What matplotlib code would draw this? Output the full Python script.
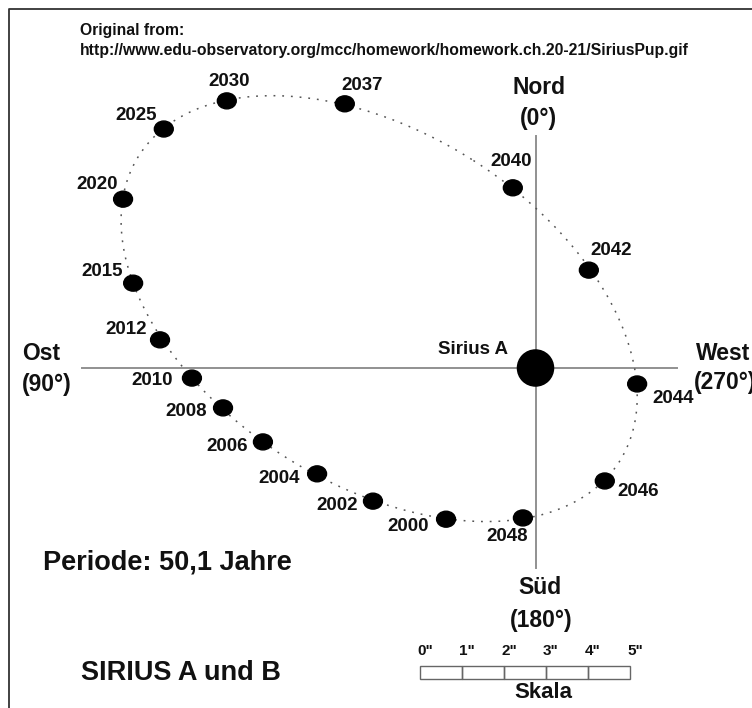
import numpy as np
import matplotlib
matplotlib.use('Agg')
import matplotlib.pyplot as plt
from matplotlib.patches import Ellipse, Circle, Rectangle
import matplotlib.transforms as mtransforms

# Positions of Sirius B relative to Sirius A, in arcseconds
# (east = positive to the left, north = positive up)
years = [2000, 2002, 2004, 2006, 2008, 2010, 2012, 2015, 2020,
         2025, 2030, 2037, 2040, 2042, 2044, 2046, 2048]
east = [2.13, 3.87, 5.20, 6.49, 7.44, 8.18, 8.94, 9.58, 9.82,
        8.85, 7.35, 4.54, 0.54, -1.27, -2.42, -1.65, 0.30]
north = [-3.60, -3.17, -2.52, -1.76, -0.95, -0.24, 0.67, 2.02, 4.02,
         5.69, 6.36, 6.29, 4.29, 2.33, -0.38, -2.69, -3.57]

scale_ticks = [0, 1, 2, 3, 4, 5]
scale_labels = ['0"', '1"', '2"', '3"', '4"', '5"']

W, H = 752, 708
PX = 42.0  # pixels per arcsecond in the original drawing
A_PX = (535.5, 368.0)  # pixel position of Sirius A

plt.rcParams['font.family'] = ['Liberation Sans', 'DejaVu Sans']
plt.rcParams['font.weight'] = 'bold'


def fit_ellipse(x, y):
    """Least squares conic fit, returns center, full width/height, angle"""
    x = np.asarray(x)
    y = np.asarray(y)
    M = np.column_stack([x * x, x * y, y * y, x, y, np.ones_like(x)])
    _, _, vt = np.linalg.svd(M)
    a, b, c, d, e, f = vt[-1]
    Q = np.array([[a, b / 2], [b / 2, c]])
    center = np.linalg.solve(2 * Q, [-d, -e])
    x0, y0 = center
    f0 = a * x0 * x0 + b * x0 * y0 + c * y0 * y0 + d * x0 + e * y0 + f
    vals, vecs = np.linalg.eigh(Q)
    semi = np.sqrt(-f0 / vals)
    angle = np.degrees(np.arctan2(vecs[1, 0], vecs[0, 0]))
    return (x0, y0), 2 * semi[0], 2 * semi[1], angle


fig = plt.figure(figsize=(W / 100, H / 100), dpi=100)
ax = fig.add_axes([0, 0, 1, 1])
ax.set_xlim(A_PX[0] / PX, (A_PX[0] - W) / PX)
ax.set_ylim((A_PX[1] - H) / PX, A_PX[1] / PX)
ax.axis('off')

# pixel coords of the original picture (origin top-left)
pix = mtransforms.Affine2D().scale(1, -1).translate(0, H)

# frame (left and top edges)
ax.plot([8.5, 8.5, W + 5], [H + 5, 8.5, 8.5], color='#333333', lw=1.3,
        transform=pix, clip_on=False)

# cross lines through Sirius A
ax.plot([10.8, -3.37], [0, 0], color='#909090', lw=1.4, zorder=1)
ax.plot([0, 0], [5.52, -4.76], color='#909090', lw=1.4, zorder=1)

# orbit
(cx, cy), ew, eh, ang = fit_ellipse(east, north)
orbit = Ellipse((cx, cy), ew, eh, angle=ang, fill=False, edgecolor='#555555',
                lw=1.1, linestyle=(0, (1.2, 4.5)), zorder=2)
ax.add_patch(orbit)

# Sirius A
ax.add_patch(Circle((0, 0), 0.43, color='black', zorder=4))

# Sirius B positions
label_off = {2000: (-37.5, -7.5), 2002: (-36, -4), 2004: (-37.5, -5),
             2006: (-35.5, -4.5), 2008: (-37, -3.5), 2010: (-39.5, -2),
             2012: (-34, 10), 2015: (-31.5, 12), 2020: (-26, 15),
             2025: (-28, 14), 2030: (2.5, 19.5), 2037: (17, 18),
             2040: (-2, 26.5), 2042: (22, 20), 2044: (35.5, -14.5),
             2046: (33, -10.5), 2048: (-15.5, -18.5)}
for yr, e, n in zip(years, east, north):
    ax.add_patch(Ellipse((e, n), 0.45, 0.38, color='black', zorder=4))
    ax.annotate(str(yr), (e, n), xytext=label_off[yr],
                textcoords='offset pixels', ha='center', va='center',
                fontsize=13.5, color='#111111')

ax.text(472.5, 350, 'Sirius A', transform=pix, ha='center', va='center',
        fontsize=13.5, color='#111111')

# directions
big = dict(transform=pix, va='center', fontsize=16.5, color='#111111')
ax.text(539, 87, 'Nord', ha='center', **big)
ax.text(538, 118, '(0°)', ha='center', **big)
ax.text(540, 588, 'Süd', ha='center', **big)
ax.text(541.5, 620, '(180°)', ha='center', **big)
ax.text(22, 354, 'Ost', ha='left', **big)
ax.text(22, 384, '(90°)', ha='left', **big)
ax.text(696, 353, 'West', ha='left', **big)
ax.text(694, 382, '(270°)', ha='left', **big)

# header
ax.text(80, 30, 'Original from:', transform=pix, ha='left', va='center',
        fontsize=11.3, color='#111111')
ax.text(80, 50,
        'http://www.edu-observatory.org/mcc/homework/homework.ch.20-21/SiriusPup.gif',
        transform=pix, ha='left', va='center', fontsize=11.3, color='#111111')

ax.text(43, 562, 'Periode: 50,1 Jahre', transform=pix, ha='left',
        va='center', fontsize=19.5, color='#111111')
ax.text(81, 673, 'SIRIUS A und B', transform=pix, ha='left',
        va='center', fontsize=19.5, color='#111111')

# scale bar (in arcseconds)
x_left = (A_PX[0] - 420) / PX
y_top = (A_PX[1] - 666) / PX
bar_h = 13 / PX
for t, lab in zip(scale_ticks, scale_labels):
    if t < scale_ticks[-1]:
        ax.add_patch(Rectangle((x_left - t - 1, y_top - bar_h), 1, bar_h,
                               fill=False, edgecolor='#666666', lw=1.0))
    ax.annotate(lab, (x_left - t, y_top), xytext=(5, 15),
                textcoords='offset pixels', ha='center', va='center',
                fontsize=11, color='#111111')
ax.text(543, 693, 'Skala', transform=pix, ha='center', va='center',
        fontsize=16, color='#111111')

fig.savefig('out.png', dpi=100)
